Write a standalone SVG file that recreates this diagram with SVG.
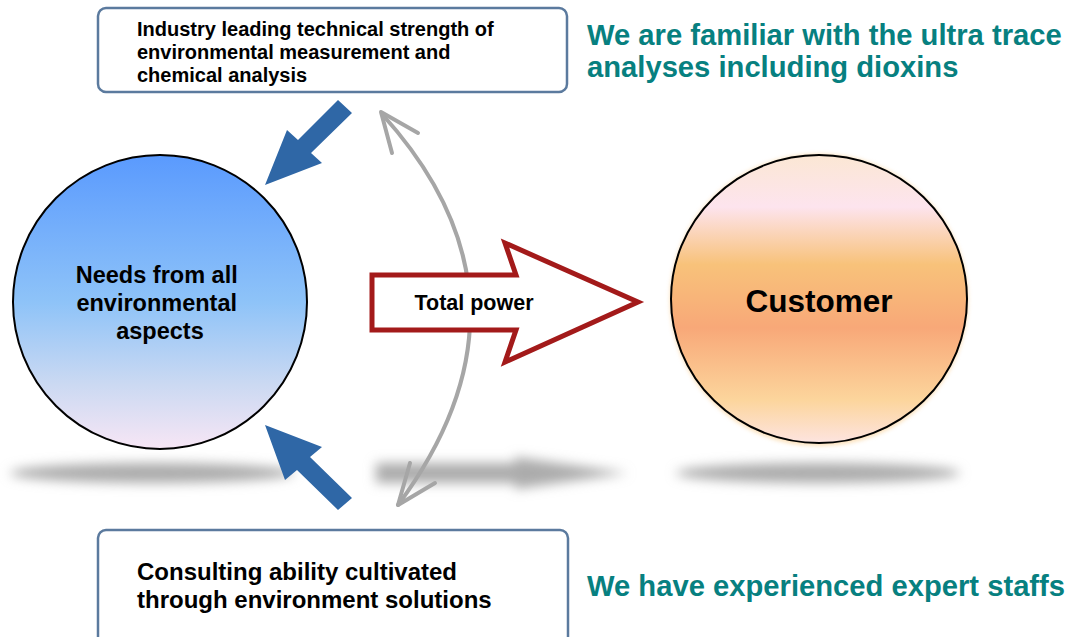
<svg xmlns="http://www.w3.org/2000/svg" width="1075" height="637" viewBox="0 0 1075 637">
  <defs>
    <linearGradient id="gLeft" x1="0" y1="0" x2="0" y2="1">
      <stop offset="0" stop-color="#5a9afe"/>
      <stop offset="0.5" stop-color="#8ec3f8"/>
      <stop offset="0.78" stop-color="#cbd9f2"/>
      <stop offset="1" stop-color="#f7e6f5"/>
    </linearGradient>
    <linearGradient id="gRight" x1="0" y1="0" x2="0" y2="1">
      <stop offset="0" stop-color="#fbe7d4"/>
      <stop offset="0.18" stop-color="#fde4ee"/>
      <stop offset="0.38" stop-color="#f8c27a"/>
      <stop offset="0.6" stop-color="#f8a878"/>
      <stop offset="0.85" stop-color="#fcd59c"/>
      <stop offset="1" stop-color="#fde4e0"/>
    </linearGradient>
    <filter id="blur" x="-20%" y="-100%" width="140%" height="300%">
      <feGaussianBlur stdDeviation="6"/>
    </filter>
    <filter id="glow" x="-10%" y="-10%" width="120%" height="120%">
      <feGaussianBlur stdDeviation="2"/>
    </filter>
  </defs>
  <style>
    .box { fill: #ffffff; stroke: #5b7a9e; stroke-width: 2.5; }
    .btxt { font-family: "Liberation Sans", Arial, sans-serif; font-weight: bold; fill: #000000; }
    .teal { font-family: "Liberation Sans", Arial, sans-serif; font-weight: bold; fill: #078080; font-size: 29.2px; }
    .circ { stroke: #000000; stroke-width: 2; }
    .blue { fill: #2f67a6; }
    .gray { fill: none; stroke: #a6a6a6; stroke-width: 4; stroke-linecap: round; stroke-linejoin: round; }
    .shadow { fill: #acacac; filter: url(#blur); }
  </style>

  <g id="shadows">
    <ellipse class="shadow" cx="152" cy="473" rx="142" ry="10"/>
    <path class="shadow" d="M376 463 L515 463 L515 457 L628 473 L515 489 L515 483 L376 483 Z"/>
    <ellipse class="shadow" cx="818" cy="473" rx="142" ry="10"/>
  </g>

  <g id="connectors">
    <polygon class="blue" points="338,100 352,113 311,153 322,163 265,185 287,130 298,140"/>
    <polygon class="blue" points="352,498 310,457 322,447 265,425 285,480 297,470 338,510"/>
    <path class="gray" d="M382 114 Q 550 300 398 505"/>
    <polyline class="gray" points="392,153 381,112 418,133"/>
    <polyline class="gray" points="410,463 398,505 435,483"/>
    <g id="total-power">
      <polygon points="372,275 516,275 505,243 638,302 505,362 516,330 372,330" fill="#ffffff" stroke="#a31a1a" stroke-width="5" stroke-linejoin="miter"/>
      <text class="btxt" x="474" y="310" font-size="21.5" text-anchor="middle">Total power</text>
    </g>
  </g>

  <g id="node-top">
    <rect class="box" x="98" y="8" width="469" height="84" rx="8" ry="8"/>
    <text class="btxt" font-size="20">
      <tspan x="137" y="36">Industry leading technical strength of</tspan>
      <tspan x="137" y="59">environmental measurement and</tspan>
      <tspan x="137" y="82">chemical analysis</tspan>
    </text>
  </g>

  <g id="node-bottom">
    <rect class="box" x="98" y="530" width="470" height="120" rx="8" ry="8"/>
    <text class="btxt" font-size="24">
      <tspan x="137" y="580">Consulting ability cultivated</tspan>
      <tspan x="137" y="608">through environment solutions</tspan>
    </text>
  </g>

  <g id="node-needs">
    <circle class="circ" cx="160" cy="302" r="147" fill="url(#gLeft)"/>
    <text class="btxt" font-size="23.5" text-anchor="middle">
      <tspan x="160" y="283">Needs from all</tspan>
      <tspan x="160" y="311">environmental</tspan>
      <tspan x="160" y="339">aspects</tspan>
    </text>
  </g>

  <g id="node-customer">
    <ellipse cx="819" cy="300" rx="149" ry="146" fill="#f8c070" opacity="0.5" filter="url(#glow)"/>
    <ellipse class="circ" cx="819" cy="299" rx="148" ry="144" fill="url(#gRight)"/>
    <text class="btxt" x="819" y="312" font-size="31.5" text-anchor="middle">Customer</text>
  </g>

  <g id="notes">
    <text class="teal">
      <tspan x="587" y="45">We are familiar with the ultra trace</tspan>
      <tspan x="587" y="77">analyses including dioxins</tspan>
    </text>
    <text class="teal" x="587" y="596">We have experienced expert staffs</text>
  </g>
</svg>
